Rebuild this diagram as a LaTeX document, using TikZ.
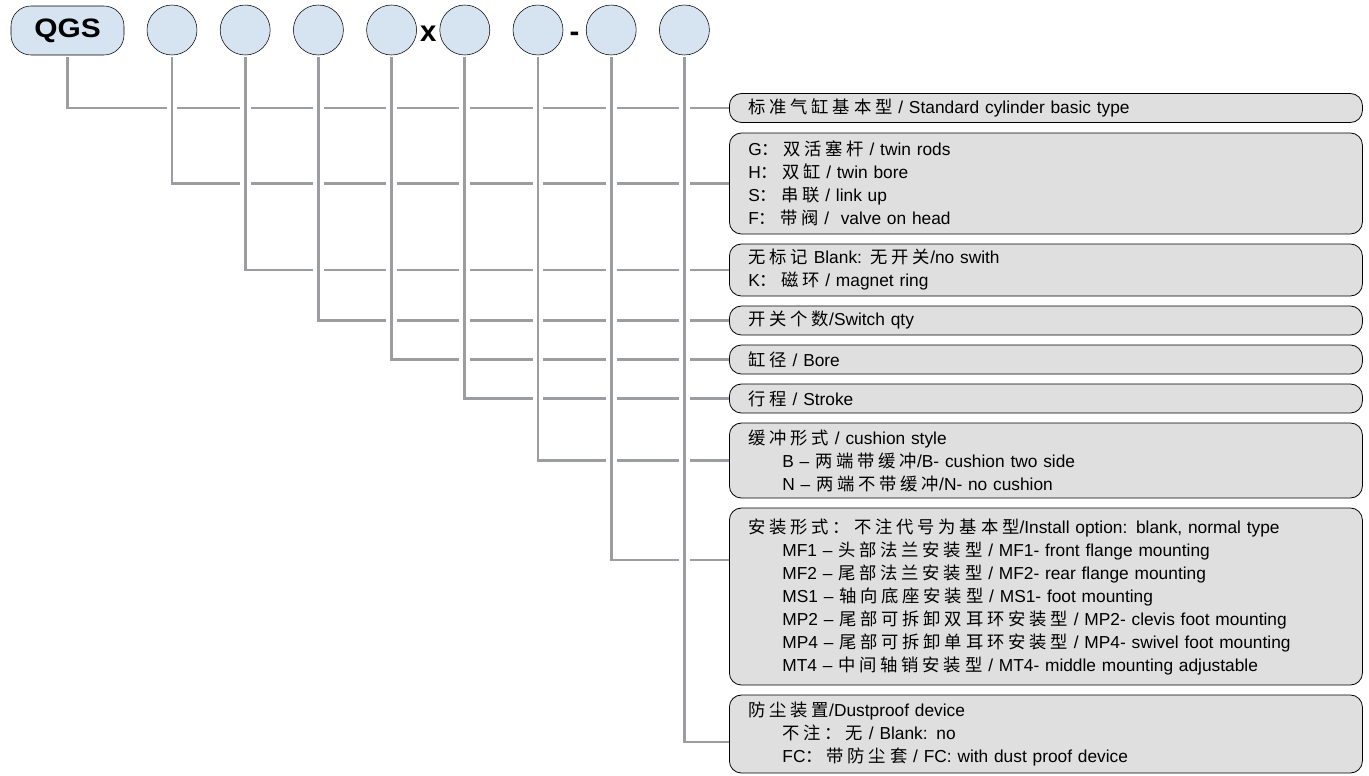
\documentclass[tikz,border=0pt]{standalone}
\usepackage{fontspec}
\setmainfont{Liberation Sans}
\newfontfamily\cjk[LetterSpace=22]{Noto Sans CJK SC}
\usetikzlibrary{positioning, backgrounds}
\definecolor{partblue}{RGB}{214,228,241}
\definecolor{notegray}{RGB}{223,223,223}
\definecolor{linkgray}{RGB}{155,157,160}
\newcommand{\zh}[1]{{\cjk #1}}
\newcommand{\ind}{\hspace*{25.5pt}}
\tikzstyle{qgsbox} = [rectangle, draw, rounded corners=15pt, fill=partblue, minimum width=84.75pt, minimum height=36.75pt, font=\fontsize{20}{20}\selectfont\bfseries]
\tikzstyle{slot} = [circle, draw, fill=partblue, minimum size=37.5pt, inner sep=0pt]
\tikzstyle{joiner} = [inner sep=0pt, anchor=base, yshift=-8.6pt, font=\fontsize{22}{22}\selectfont\bfseries]
\tikzstyle{optbox} = [rectangle, draw, line width=0.6pt, rounded corners=9pt, fill=notegray, anchor=west, minimum width=474.75pt, text width=446.25pt, inner xsep=14.25pt, inner ysep=2pt, align=left, font=\fontsize{13}{17.25}\selectfont]
\tikzstyle{leader} = [draw=linkgray, line width=2pt, preaction={draw=white, line width=8pt}]

\begin{document}
\begin{tikzpicture}[x=0.75pt, y=-0.75pt]
\useasboundingbox (0,0) rectangle (1369,775);

\node[qgsbox] (qgs) at (67.5,30.5) {\scalebox{1.12}[1]{QGS}};
\node[slot] (c1) at (172,30) {};
\node[slot, right=17pt of c1] (c2) {};
\node[slot, right=17pt of c2] (c3) {};
\node[slot, right=17pt of c3] (c4) {};
\node[slot, right=17pt of c4] (c5) {};
\node[slot, right=17pt of c5] (c6) {};
\node[slot, right=17pt of c6] (c7) {};
\node[slot, right=17pt of c7] (c8) {};
\path (c4) -- node[joiner] (times) {x} (c5);
\path (c6) -- node[joiner] (dash) {-} (c7);

\node[optbox, minimum height=21.75pt] (type) at (729,108) {\zh{标准气缸基本型} / Standard cylinder basic type};
\node[optbox, minimum height=75.75pt] (model) at (729,183.5) {G\zh{：双活塞杆} / twin rods\\H\zh{：双缸} / twin bore\\S\zh{：串联} / link up\\F\zh{：带阀} /~ valve on head};
\node[optbox, minimum height=39pt] (switch) at (729,270) {\zh{无标记} Blank: \zh{无开关}/no swith\\K\zh{：磁环} / magnet ring};
\node[optbox, minimum height=21.75pt] (qty) at (729,320.5) {\zh{开关个数}/Switch qty};
\node[optbox, minimum height=21.75pt] (bore) at (729,359.5) {\zh{缸径} / Bore};
\node[optbox, minimum height=21.75pt] (stroke) at (729,398.5) {\zh{行程} / Stroke};
\node[optbox, minimum height=56.25pt] (cushion) at (729,460.5) {\zh{缓冲形式} / cushion style\\\ind B – \zh{两端带缓冲}/B- cushion two side\\\ind N – \zh{两端不带缓冲}/N- no cushion};
\node[optbox, minimum height=132.75pt] (mount) at (729,596.5) {\zh{安装形式：不注代号为基本型}/Install option: blank, normal type\\\ind MF1 – \zh{头部法兰安装型} / MF1- front flange mounting\\\ind MF2 – \zh{尾部法兰安装型} / MF2- rear flange mounting\\\ind MS1 – \zh{轴向底座安装型} / MS1- foot mounting\\\ind MP2 – \zh{尾部可拆卸双耳环安装型} / MP2- clevis foot mounting\\\ind MP4 – \zh{尾部可拆卸单耳环安装型} / MP4- swivel foot mounting\\\ind MT4 – \zh{中间轴销安装型} / MT4- middle mounting adjustable};
\node[optbox, minimum height=58.5pt] (dust) at (729,734) {\zh{防尘装置}/Dustproof device\\\ind\zh{不注：无} / Blank: no\\\ind FC\zh{：带防尘套} / FC: with dust proof device};

\begin{pgfonlayer}{background}
\draw[leader] ([yshift=-1.5pt]qgs.south) |- (type.west);
\draw[leader] ([yshift=-1.5pt]c1.south) |- (model.west);
\draw[leader] ([yshift=-1.5pt]c2.south) |- (switch.west);
\draw[leader] ([yshift=-1.5pt]c3.south) |- (qty.west);
\draw[leader] ([yshift=-1.5pt]c4.south) |- (bore.west);
\draw[leader] ([yshift=-1.5pt]c5.south) |- (stroke.west);
\draw[leader] ([yshift=-1.5pt]c6.south) |- (cushion.west);
\draw[leader] ([yshift=-1.5pt]c7.south) |- ([yshift=27.4pt]mount.west);
\draw[leader] ([yshift=-1.5pt]c8.south) |- ([yshift=-6pt]dust.west);
\end{pgfonlayer}

\end{tikzpicture}
\end{document}
